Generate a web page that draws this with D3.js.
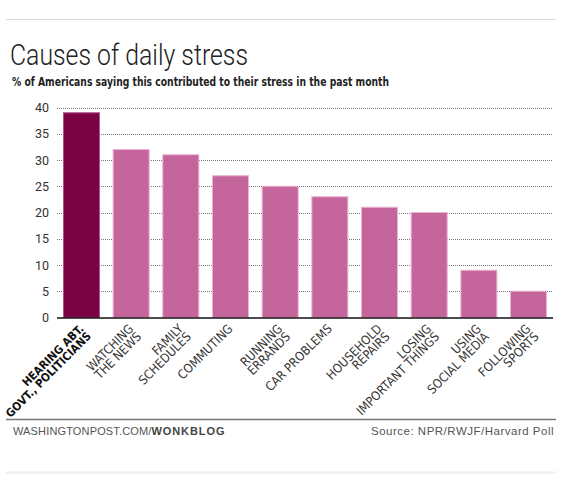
<!DOCTYPE html>
<html><head><meta charset="utf-8">
<script src="https://cdn.jsdelivr.net/npm/d3@7"></script>
<style>
html,body{margin:0;padding:0;background:#fff;}
svg{display:block;}
</style></head>
<body>
<svg id="chart" width="565" height="491"></svg>
<script>
const categories = ["HEARING ABT.\nGOVT., POLITICIANS","WATCHING\nTHE NEWS","FAMILY\nSCHEDULES","COMMUTING","RUNNING\nERRANDS","CAR PROBLEMS","HOUSEHOLD\nREPAIRS","LOSING\nIMPORTANT THINGS","USING\nSOCIAL MEDIA","FOLLOWING\nSPORTS"];
const values = [39,32,31,27,25,23,21,20,9,5];
const yTicks = [0,5,10,15,20,25,30,35,40];
const title = "Causes of daily stress";
const subtitle = "% of Americans saying this contributed to their stress in the past month";
const creditPlain = "WASHINGTONPOST.COM/";
const creditBold = "WONKBLOG";
const source = "Source: NPR/RWJF/Harvard Poll";

const svg = d3.select("#chart");
const left = 57, right = 553, y0 = 317.5, yTop = 107.5;

const x = d3.scaleBand().domain(d3.range(categories.length)).range([left, right]).paddingInner(0.275).paddingOuter(0.13);
const y = d3.scaleLinear().domain([0, 40]).range([y0, yTop]);

// top rule
svg.append("line").attr("x1",6).attr("x2",556).attr("y1",19.5).attr("y2",19.5).attr("stroke","#dcdcdc").attr("stroke-width",1);

svg.append("text").attr("x",10).attr("y",65).text(title)
  .attr("font-family","Roboto, 'Open Sans', sans-serif").attr("font-weight",300)
  .attr("font-size",30).attr("fill","#222").attr("textLength",238).attr("lengthAdjust","spacingAndGlyphs");

svg.append("text").attr("x",12).attr("y",86).text(subtitle)
  .attr("font-family","'Liberation Sans Narrow','DejaVu Sans Condensed',Roboto,sans-serif").attr("font-weight",700)
  .attr("font-size",12.5).attr("fill","#222").attr("textLength",377).attr("lengthAdjust","spacingAndGlyphs");

// gridlines
svg.append("g").selectAll("line").data(yTicks.filter(d=>d>0)).join("line")
  .attr("x1",left).attr("x2",right).attr("y1",d=>Math.round(y(d))+0.5).attr("y2",d=>Math.round(y(d))+0.5)
  .attr("stroke","#777").attr("stroke-width",1).attr("stroke-dasharray","1,1");

// y axis labels
const yAxis = d3.axisLeft(y).tickValues(yTicks).tickSize(0).tickPadding(8);
const ga = svg.append("g").attr("transform",`translate(${left},0)`).call(yAxis);
ga.select(".domain").remove();
ga.selectAll("text").attr("font-family","Roboto, 'Liberation Sans', sans-serif").attr("font-size",12.5).attr("fill","#333");

// bars
svg.append("g").selectAll("rect").data(values).join("rect")
  .attr("x",(d,i)=>x(i)).attr("width",x.bandwidth())
  .attr("y",d=>y(d)).attr("height",d=>y0-y(d))
  .attr("fill",(d,i)=>i===0?"#7a0343":"#c4669b")
  .attr("stroke",(d,i)=>i===0?"#b0568a":"#eab3d2").attr("stroke-width",1);

// baseline
svg.append("line").attr("x1",left).attr("x2",right).attr("y1",y0+0.5).attr("y2",y0+0.5).attr("stroke","#111").attr("stroke-width",1.6);

// x labels
const lg = svg.append("g");
categories.forEach((c,i)=>{
  const cx = x(i) + x.bandwidth()/2 + 3;
  const t = lg.append("text").attr("transform",`translate(${cx},${y0+12}) rotate(-45)`)
    .attr("text-anchor","end")
    .attr("font-family","'Liberation Sans Narrow','DejaVu Sans Condensed',Roboto,sans-serif")
    .attr("font-size",i===0?11.5:12.5).attr("font-weight",i===0?700:400).attr("fill",i===0?"#111":"#333");
  c.split("\n").forEach((ln,j)=>{
    t.append("tspan").attr("x",0).attr("dy",j===0?"0":"0.9em").text(ln);
  });
});

// bottom rule
svg.append("line").attr("x1",6).attr("x2",556).attr("y1",419.5).attr("y2",419.5).attr("stroke","#777").attr("stroke-width",1.5);

const ft = svg.append("text").attr("x",13).attr("y",435)
  .attr("font-family","'Liberation Sans', Roboto, sans-serif").attr("font-size",11).attr("fill","#555").attr("letter-spacing",0.15);
ft.append("tspan").text(creditPlain);
ft.append("tspan").text(creditBold).attr("font-weight",700).attr("fill","#444").attr("letter-spacing",0.9);

svg.append("text").attr("x",554).attr("y",435).attr("text-anchor","end").text(source)
  .attr("font-family","'Liberation Sans', Roboto, sans-serif").attr("font-size",11.5).attr("fill","#555").attr("letter-spacing",0.5);

svg.append("line").attr("x1",6).attr("x2",556).attr("y1",472.5).attr("y2",472.5).attr("stroke","#eeeeee").attr("stroke-width",2);
</script>
</body></html>
